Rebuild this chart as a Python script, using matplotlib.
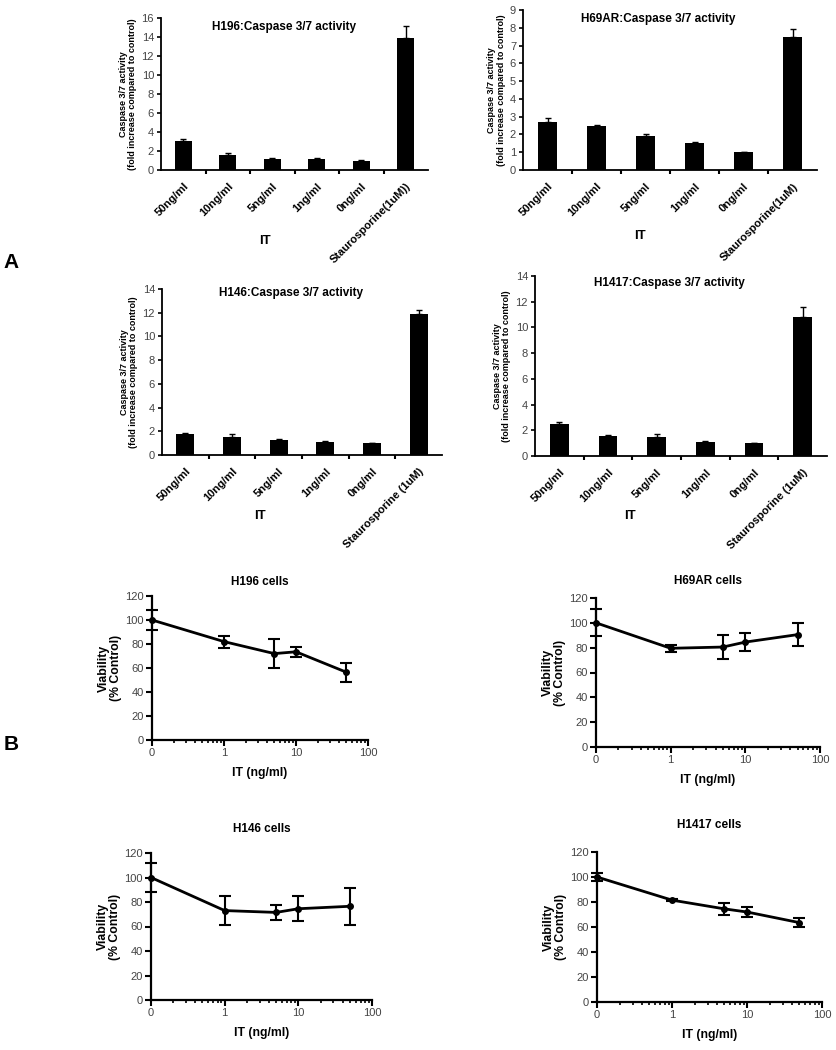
import matplotlib
matplotlib.use("Agg")
import matplotlib.pyplot as plt
import numpy as np
from matplotlib.ticker import FixedLocator, LogLocator, NullFormatter

plt.rcParams['font.family'] = ['Liberation Sans', 'DejaVu Sans']

# ---------------- data ----------------
conc_labels = ["50ng/ml", "10ng/ml", "5ng/ml", "1ng/ml", "0ng/ml"]

casp_titles = ["H196:Caspase 3/7 activity", "H69AR:Caspase 3/7 activity",
               "H146:Caspase 3/7 activity", "H1417:Caspase 3/7 activity"]
stauro_labels = ["Staurosporine(1uM))", "Staurosporine(1uM)",
                 "Staurosporine (1uM)", "Staurosporine (1uM)"]
h196_casp = [3.05, 1.55, 1.15, 1.15, 1.0, 13.9]
h196_casp_err = [0.25, 0.25, 0.1, 0.1, 0.05, 1.3]
h69ar_casp = [2.7, 2.45, 1.9, 1.5, 1.0, 7.5]
h69ar_casp_err = [0.2, 0.08, 0.12, 0.08, 0.03, 0.45]
h146_casp = [1.75, 1.55, 1.3, 1.1, 1.0, 11.9]
h146_casp_err = [0.1, 0.25, 0.08, 0.08, 0.03, 0.35]
h1417_casp = [2.5, 1.55, 1.5, 1.1, 1.0, 10.8]
h1417_casp_err = [0.15, 0.1, 0.2, 0.08, 0.03, 0.8]
casp_ymax = [16, 9, 14, 14]
casp_ystep = [2, 1, 2, 2]

via_titles = ["H196 cells", "H69AR cells", "H146 cells", "H1417 cells"]
via_conc = [0, 1, 5, 10, 50]
h196_via = [100, 82, 72, 73.5, 56.5]
h196_via_err = [8, 5, 12, 4, 8]
h69ar_via = [100, 79.5, 80.5, 84.5, 90.5]
h69ar_via_err = [11, 3, 10, 7, 9.5]
h146_via = [100, 73, 71.5, 74.5, 76.5]
h146_via_err = [12, 12, 6, 10, 15]
h1417_via = [100, 81.5, 74.5, 72, 63.5]
h1417_via_err = [3, 1, 4.5, 4, 3.5]

# ---------------- layout ----------------
W, H = 836, 1050
fig = plt.figure(figsize=(W / 100, H / 100), dpi=100)


def rect(l, t, r, b):
    return [l / W, 1 - b / H, (r - l) / W, (b - t) / H]


casp_rects = [(161, 18, 428, 170), (523, 10, 817, 170),
              (162, 289, 442, 455), (535, 276, 827, 456)]
casp_it_pos = [(265, 235), (640, 230), (260, 510), (630, 510)]
casp_title_y = [27, 19, 293, 283]
casp_data = [(h196_casp, h196_casp_err), (h69ar_casp, h69ar_casp_err),
             (h146_casp, h146_casp_err), (h1417_casp, h1417_casp_err)]
tick_gray = '#444444'

for i in range(4):
    l, t, r, b = casp_rects[i]
    ax = fig.add_axes(rect(l, t, r, b))
    vals, errs = casp_data[i]
    cats = conc_labels + [stauro_labels[i]]
    x = np.arange(len(cats))
    ax.bar(x, vals, width=0.38, color='black', zorder=2)
    ax.errorbar(x, vals, yerr=[np.zeros(len(vals)), errs], fmt='none',
                ecolor='black', elinewidth=1.0, capsize=2.5, capthick=1.0, zorder=3)
    ax.set_xlim(-0.5, len(cats) - 0.5)
    ax.set_ylim(0, casp_ymax[i])
    ax.set_yticks(np.arange(0, casp_ymax[i] + 0.1, casp_ystep[i]))
    ax.set_xticks(x)
    ax.set_xticklabels(cats, rotation=45, ha='right', rotation_mode='anchor',
                       fontsize=8, fontweight='bold')
    ax.xaxis.set_minor_locator(FixedLocator(x[:-1] + 0.5))
    ax.tick_params(axis='x', which='major', length=0, pad=8)
    ax.tick_params(axis='x', which='minor', length=3, width=1.5, direction='out')
    ax.tick_params(axis='y', length=3, width=1.2, labelsize=8, labelcolor=tick_gray, pad=2)
    for s in ['top', 'right']:
        ax.spines[s].set_visible(False)
    for s in ['left', 'bottom']:
        ax.spines[s].set_linewidth(1.3)
    ty = (b - casp_title_y[i]) / (b - t)
    ax.text(0.46, ty, casp_titles[i], transform=ax.transAxes,
            ha='center', va='center', fontsize=8.5, fontweight='bold')
    ax.set_ylabel("Caspase 3/7 activity\n(fold increase compared to control)",
                  fontsize=6.5, fontweight='bold', labelpad=3, linespacing=1.1)
    ax.set_xlabel("IT", fontsize=9.5, fontweight='bold')
    ix, iy = casp_it_pos[i]
    ax.xaxis.set_label_coords((ix - l) / (r - l), (b - iy) / (b - t))

via_rects = [(152, 596, 368, 740), (596, 598, 820, 747),
             (151, 853, 372, 1000), (597, 852, 822, 1002)]
via_title_pad = [8, 10, 15, 17]
via_data = [(h196_via, h196_via_err), (h69ar_via, h69ar_via_err),
            (h146_via, h146_via_err), (h1417_via, h1417_via_err)]

for i in range(4):
    ax = fig.add_axes(rect(*via_rects[i]))
    vals, errs = via_data[i]
    # 0 ng/ml is drawn at 0.1 on the log axis (labelled "0")
    xpos = [c if c > 0 else 0.1 for c in via_conc]
    ax.errorbar(xpos, vals, yerr=errs, fmt='-o', color='black', lw=2,
                markersize=4, elinewidth=1.5, capsize=4.5, capthick=1.5,
                clip_on=False, zorder=3)
    ax.set_xscale('log')
    ax.set_xlim(0.1, 100)
    ax.set_ylim(0, 120)
    ax.set_yticks(np.arange(0, 121, 20))
    ax.set_xticks([0.1, 1, 10, 100])
    ax.set_xticklabels(["0", "1", "10", "100"])
    ax.xaxis.set_minor_locator(LogLocator(base=10, subs=np.arange(2, 10)))
    ax.xaxis.set_minor_formatter(NullFormatter())
    ax.tick_params(axis='both', which='major', length=4, width=1.5,
                   labelsize=8, labelcolor=tick_gray, pad=2)
    ax.tick_params(axis='x', which='minor', length=2.5, width=1.2)
    for s in ['top', 'right']:
        ax.spines[s].set_visible(False)
    for s in ['left', 'bottom']:
        ax.spines[s].set_linewidth(1.6)
    ax.set_title(via_titles[i], fontsize=8.5, fontweight='bold', pad=via_title_pad[i])
    ax.set_ylabel("Viability\n(% Control)", fontsize=8.8, fontweight='bold',
                  labelpad=2, linespacing=1.0)
    ax.set_xlabel("IT (ng/ml)", fontsize=8.8, fontweight='bold', labelpad=6)

fig.text(11 / W, 1 - 262 / H, "A", fontsize=15, fontweight='bold', ha='center', va='center')
fig.text(11 / W, 1 - 745 / H, "B", fontsize=15, fontweight='bold', ha='center', va='center')

fig.savefig("out.png", dpi=100)
